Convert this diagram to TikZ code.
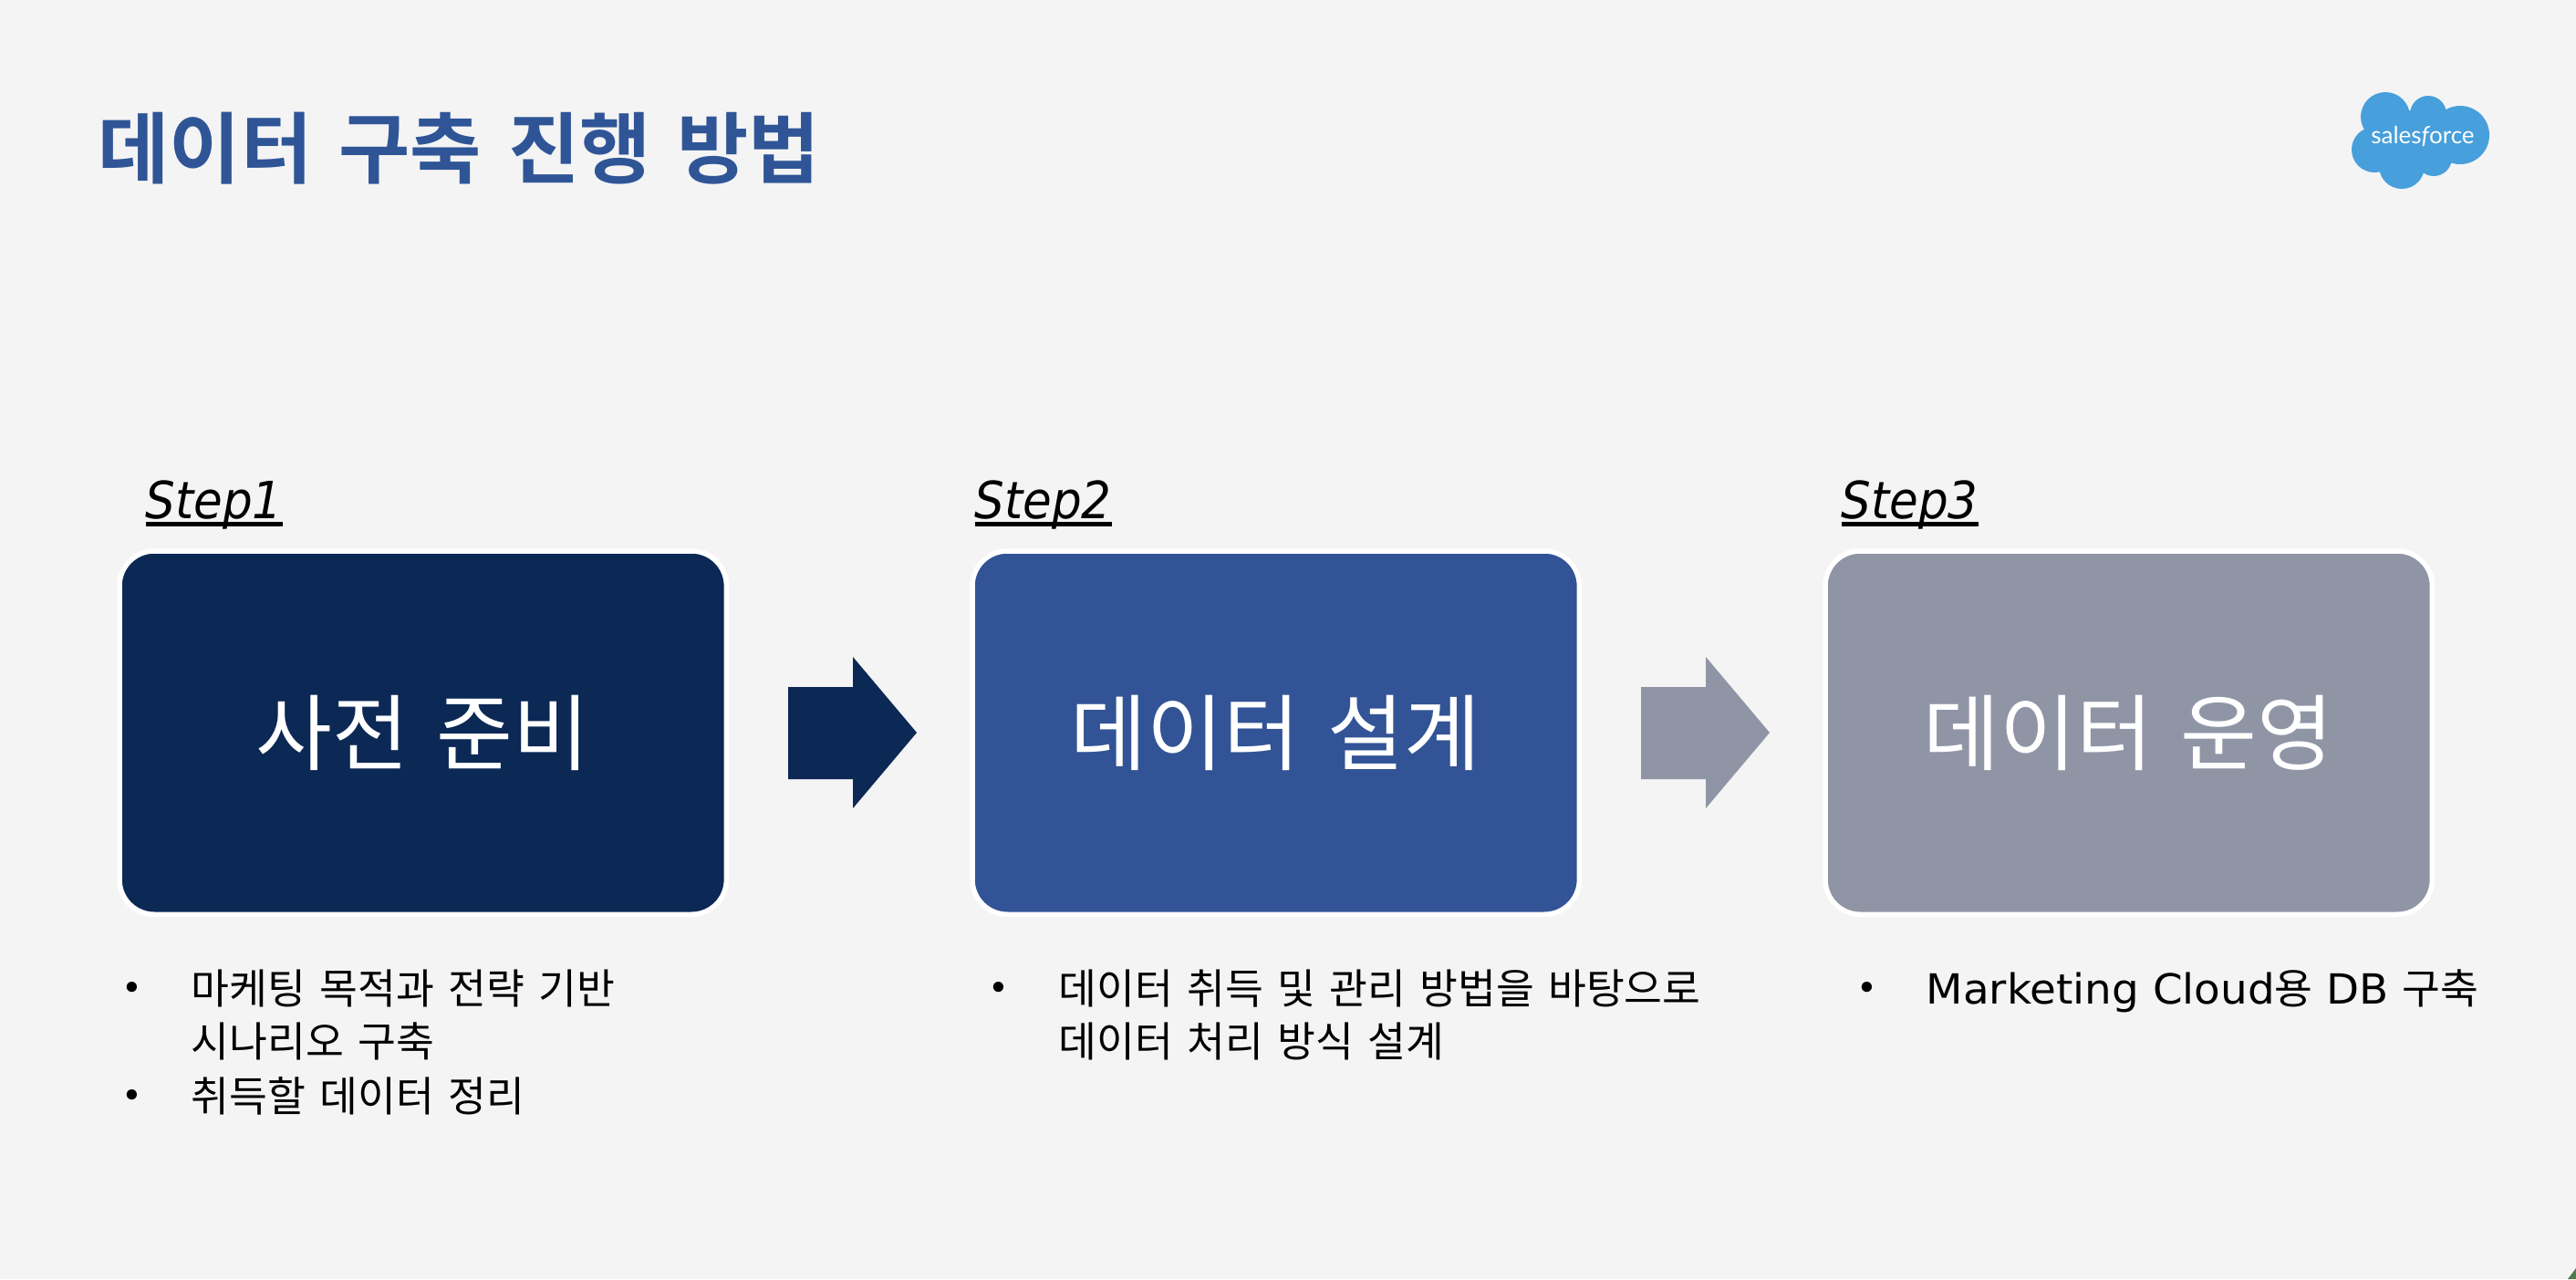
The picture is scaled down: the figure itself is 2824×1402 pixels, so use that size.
\documentclass[tikz,border=0pt]{standalone}
\usepackage{fontspec}
\setmainfont{DejaVu Sans}
\newfontfamily\kr{Noto Sans CJK KR}[WordSpace=1.5]
\newfontfamily\krbold{Noto Sans CJK KR Bold}[WordSpace=1.5]
\newfontfamily\lgfont{Lato}
\newfontfamily\stepfont{DejaVu Sans}[FakeStretch=0.915]
\newfontfamily\latinbody{DejaVu Sans}[FakeStretch=1.03]
\definecolor{bg}{HTML}{F4F4F4}
\definecolor{navy}{HTML}{0C2855}
\definecolor{midblue}{HTML}{325496}
\definecolor{greyblue}{HTML}{9095A6}
\definecolor{titleblue}{HTML}{2F5597}
\definecolor{cloud}{HTML}{479FDB}
\definecolor{cornergreen}{HTML}{4F7A4F}
\newcommand{\stepmark}[1]{\setbox0\hbox{\itshape #1}\rlap{\rule[-0.09cm]{\wd0}{0.05cm}}\box0}
\newcommand{\boxlabel}[1]{\raisebox{0.05cm}{#1}}
\tikzset{
  x=0.01cm,y=-0.01cm,
  stagebox/.style={draw=white,line width=0.055cm,rounded corners=0.38cm,fill=#1,anchor=north west,
     minimum width=6.65cm,minimum height=3.98cm,inner sep=0pt,outer sep=0pt,text=white,font=\kr\fontsize{25.9}{30}\selectfont},
  steplabel/.style={anchor=base west,inner sep=0pt,font=\stepfont\fontsize{16}{20}\selectfont},
  bodytext/.style={anchor=base west,inner sep=0pt,font=\kr\fontsize{12.93}{16}\selectfont},
  bulletmark/.style={anchor=center,inner sep=0pt,font=\fontsize{11}{14}\selectfont},
}
\begin{document}
\begin{tikzpicture}
\path[use as bounding box,fill=bg] (0,0) rectangle (2824,1402);
\fill[cornergreen] (2824,1390) -- (2824,1402) -- (2815,1402) -- cycle;
% title
\node[anchor=base west,inner sep=0pt,text=titleblue,font=\krbold\fontsize{24.2}{28}\selectfont] (title) at (107,194) {데이터 구축 진행 방법};
% logo
\fill[cloud] (2615,128) circle (27) (2662,125) circle (20) (2697,148) circle (32) (2603,164) circle (25) (2633,182) circle (25) (2668,173) circle (20) (2650,150) circle (30);
\node[text=white,inner sep=0,font=\lgfont\fontsize{7.4}{9}\selectfont] (logo) at (2656,150) {sales{\itshape f}orce};
% boxes
\node[stagebox=navy] (b1) at (131,604) {\boxlabel{사전 준비}};
\node[stagebox=midblue] (b2) at (1066,604) {\boxlabel{데이터 설계}};
\node[stagebox=greyblue] (b3) at (2001,604) {\boxlabel{데이터 운영}};
% step labels
\node[steplabel] (s1) at (159,568) {\stepmark{Step1}};
\node[steplabel] (s2) at (1068,568) {\stepmark{Step2}};
\node[steplabel] (s3) at (2018,568) {\stepmark{Step3}};
% arrows
\fill[navy] (864,753) -- (935,753) -- (935,720) -- (1005,803) -- (935,886) -- (935,854) -- (864,854) -- cycle;
\fill[greyblue] (1799,753) -- (1870,753) -- (1870,720) -- (1940,803) -- (1870,886) -- (1870,854) -- (1799,854) -- cycle;
% body text
\node[bulletmark] (d1) at (145,1086) {•};
\node[bodytext] (t1) at (209,1100) {마케팅 목적과 전략 기반};
\node[bodytext] (t1b) at (209,1158) {시나리오 구축};
\node[bulletmark] (d2) at (145,1204) {•};
\node[bodytext] (t2) at (209,1218) {취득할 데이터 정리};
\node[bulletmark] (d3) at (1095,1086) {•};
\node[bodytext] (t3) at (1160,1100) {데이터 취득 및 관리 방법을 바탕으로};
\node[bodytext] (t3b) at (1160,1158) {데이터 처리 방식 설계};
\node[bulletmark] (d4) at (2047,1086) {•};
\node[bodytext] (t4) at (2111,1100) {\latinbody Marketing Cloud{\kr 용} DB {\kr 구축}};
\end{tikzpicture}
\end{document}
